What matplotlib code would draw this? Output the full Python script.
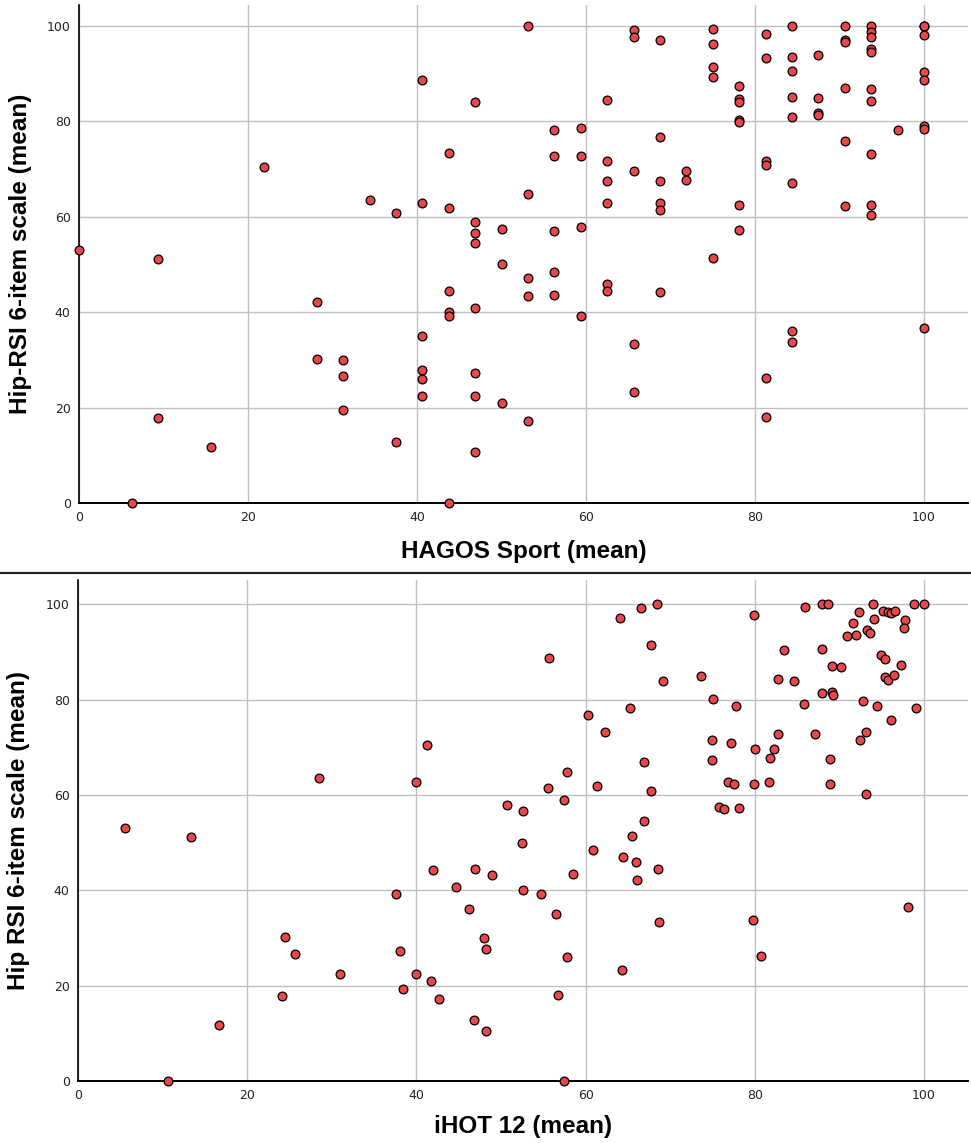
import numpy as np
import matplotlib
matplotlib.use('Agg')
import matplotlib.pyplot as plt
from matplotlib.lines import Line2D

# top panel: HAGOS Sport (mean) vs Hip-RSI
hagos_x = [0, 6.25, 9.375, 9.375, 15.625, 21.875, 28.125, 28.125,
           31.25, 31.25, 31.25, 34.375, 37.5, 37.5,
           40.625, 40.625, 40.625, 40.625, 40.625, 40.625,
           43.75, 43.75, 43.75, 43.75, 43.75, 43.75,
           46.875, 46.875, 46.875, 46.875, 46.875, 46.875, 46.875, 46.875,
           50, 50, 50,
           53.125, 53.125, 53.125, 53.125, 53.125,
           56.25, 56.25, 56.25, 56.25, 56.25,
           59.375, 59.375, 59.375, 59.375,
           62.5, 62.5, 62.5, 62.5, 62.5, 62.5,
           65.625, 65.625, 65.625, 65.625, 65.625,
           68.75, 68.75, 68.75, 68.75, 68.75, 68.75,
           71.875, 71.875,
           75, 75, 75, 75, 75,
           78.125, 78.125, 78.125, 78.125, 78.125, 78.125, 78.125,
           81.25, 81.25, 81.25, 81.25, 81.25, 81.25,
           84.375, 84.375, 84.375, 84.375, 84.375, 84.375, 84.375, 84.375,
           87.5, 87.5, 87.5, 87.5,
           90.625, 90.625, 90.625, 90.625, 90.625, 90.625,
           93.75, 93.75, 93.75, 93.75, 93.75, 93.75, 93.75, 93.75, 93.75, 93.75,
           96.875,
           100, 100, 100, 100, 100, 100, 100, 100]
hagos_y = [53.0, 0, 51.2, 17.8, 11.8, 70.4, 42.2, 30.2,
           30.0, 26.6, 19.4, 63.5, 60.8, 12.8,
           88.7, 62.8, 35.0, 27.8, 26.0, 22.5,
           73.4, 61.8, 44.4, 40.0, 39.2, 0,
           84.0, 59.0, 56.6, 54.6, 40.8, 27.2, 22.4, 10.6,
           57.4, 50.0, 21.0,
           100, 64.8, 47.2, 43.4, 17.2,
           78.2, 72.8, 57.0, 48.5, 43.5,
           78.6, 72.8, 57.9, 39.2,
           84.4, 71.6, 67.6, 62.8, 46.0, 44.4,
           99.2, 97.8, 69.6, 33.4, 23.2,
           97.1, 76.8, 67.4, 62.8, 61.4, 44.2,
           69.6, 67.7,
           99.4, 96.2, 91.4, 89.4, 51.4,
           87.4, 84.8, 84.0, 80.2, 79.8, 62.4, 57.2,
           98.4, 93.3, 71.6, 70.8, 26.2, 18.0,
           100, 93.6, 90.6, 85.2, 81.0, 67.0, 36.0, 33.7,
           94.0, 85.0, 81.7, 81.3,
           100, 97.1, 96.7, 87.0, 75.8, 62.2,
           100, 98.7, 97.8, 95.2, 94.5, 86.8, 84.2, 73.2, 62.4, 60.3,
           78.2,
           100, 100, 98.2, 90.3, 88.6, 79.1, 78.5, 36.6]

# bottom panel: iHOT 12 (mean) vs Hip RSI
ihot_x = [5.6, 13.4, 28.5, 39.9, 41.3,
          55.7, 60.3, 62.3, 65.3, 64.1, 66.6, 68.4, 67.7, 69.2, 73.6, 75.1, 77.8,
          74.9, 77.2, 74.9, 80.0, 82.3, 82.7, 81.8, 76.8, 77.5, 79.9, 81.7,
          75.8, 76.4, 78.1,
          79.9, 83.4, 82.7, 84.6, 85.8, 87.1, 88.9, 88.9, 93.1, 85.9, 88.0, 88.6,
          88.0, 89.1, 90.2, 88.0, 89.1, 89.2, 92.8, 94.5, 99.1, 96.1, 93.2, 92.4,
          90.9, 92.0, 91.6, 92.3, 94.0, 93.3, 93.6, 94.1, 95.2, 95.7, 96.1, 96.6,
          97.8, 97.6, 98.8, 100, 94.9, 95.4, 97.3, 95.4, 95.8, 96.5,
          50.7, 52.6, 57.8, 55.5, 61.4, 57.4, 67.7, 66.9, 52.5, 60.9, 64.4, 65.5,
          66.9, 66.0,
          48.9, 58.5, 68.6, 66.1, 52.6, 54.7, 56.5, 68.7, 79.8, 80.7, 98.1, 48.0,
          48.2, 57.8, 64.3, 56.7, 48.2, 57.4,
          42.0, 46.9, 44.65, 37.6, 46.2, 24.5, 25.6, 31.0, 38.1, 39.9, 41.7, 38.4,
          42.7, 24.1, 16.7, 10.6, 46.8]
ihot_y = [53.0, 51.2, 63.5, 62.8, 70.4,
          88.7, 76.8, 73.3, 78.2, 97.2, 99.2, 100, 91.4, 84.0, 85.0, 80.2, 78.6,
          71.6, 70.8, 67.3, 69.6, 69.6, 72.8, 67.8, 62.8, 62.4, 62.4, 62.8,
          57.4, 57.0, 57.2,
          97.8, 90.4, 84.4, 84.0, 79.0, 72.8, 67.5, 62.2, 60.3, 99.4, 100, 100,
          90.6, 87.0, 86.8, 81.4, 81.7, 80.9, 79.8, 78.6, 78.2, 75.8, 73.2, 71.6,
          93.4, 93.6, 96.1, 98.4, 100, 94.7, 94.0, 97.0, 98.6, 98.3, 98.1, 98.6,
          96.8, 95.1, 100, 100, 89.4, 88.6, 87.3, 84.8, 84.2, 85.2,
          58.0, 56.6, 64.8, 61.4, 61.8, 59.0, 60.8, 67.0, 50.0, 48.5, 47.0, 51.4,
          54.6, 46.0,
          43.3, 43.5, 44.4, 42.2, 40.0, 39.2, 35.1, 33.4, 33.8, 26.2, 36.6, 30.0,
          27.8, 26.0, 23.2, 18.0, 10.6, 0,
          44.2, 44.4, 40.8, 39.2, 36.0, 30.2, 26.6, 22.5, 27.2, 22.4, 21.0, 19.4,
          17.2, 17.8, 11.8, 0, 12.7]

ticks = [0, 20, 40, 60, 80, 100]
dotcol = '#e8474b'
labfont = ['Liberation Sans', 'DejaVu Sans']

fig = plt.figure(figsize=(9.71, 11.43), dpi=100)
ax1 = fig.add_axes([0.0814, 0.56, 0.9155, 0.4356])
ax2 = fig.add_axes([0.0803, 0.0542, 0.9166, 0.4384])

panels = [(ax1, hagos_x, hagos_y, 'HAGOS Sport (mean)', 'Hip-RSI 6-item scale (mean)', 104.4, 11),
          (ax2, ihot_x, ihot_y, 'iHOT 12 (mean)', 'Hip RSI 6-item scale (mean)', 105.1, 9)]

for ax, xs, ys, xl, yl, ytop, xpad in panels:
    ax.scatter(xs, ys, s=40, c=dotcol, edgecolors='black', linewidths=0.9,
               zorder=3, clip_on=False)
    ax.set_xlim(0, 105.2)
    ax.set_ylim(0, ytop)
    ax.set_xticks(ticks)
    ax.set_yticks(ticks)
    ax.grid(True, color='#c0c0c0', linewidth=1.0, zorder=0)
    ax.set_axisbelow(True)
    ax.spines['top'].set_visible(False)
    ax.spines['right'].set_visible(False)
    ax.spines['left'].set_color('black')
    ax.spines['bottom'].set_color('black')
    ax.spines['left'].set_linewidth(1.2)
    ax.spines['bottom'].set_linewidth(1.4)
    ax.tick_params(length=0, labelsize=9, pad=6, colors='#222222')
    ax.set_xlabel(xl, fontsize=17.5, fontweight='bold', family=labfont, labelpad=xpad)
    ax.set_ylabel(yl, fontsize=17.5, fontweight='bold', family=labfont, labelpad=11)

# divider between the two charts
fig.add_artist(Line2D([0, 1], [0.4983, 0.4983], transform=fig.transFigure,
                      color='#222222', linewidth=1.6))

fig.savefig('out.png', dpi=100)
